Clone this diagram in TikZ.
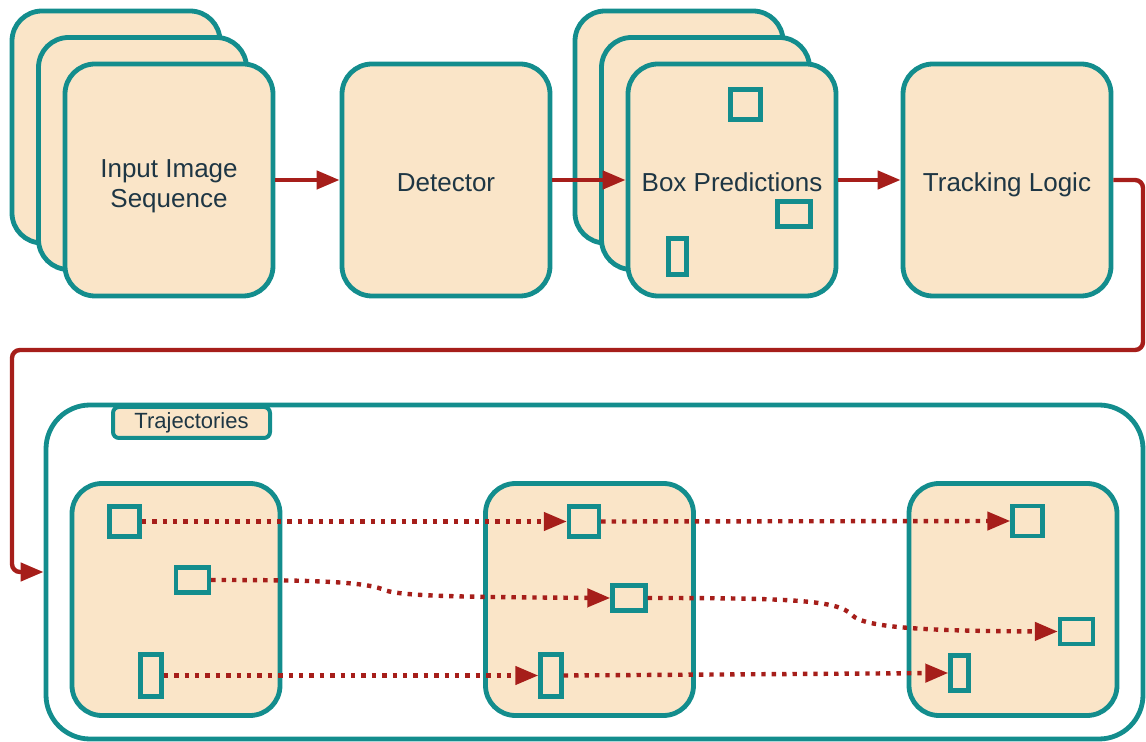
\documentclass[tikz,border=0pt]{standalone}
\usepackage{fontspec}
\setmainfont{Liberation Sans}
\usetikzlibrary{arrows.meta, positioning}
\definecolor{trackteal}{RGB}{19,141,141}
\definecolor{trackfill}{RGB}{250,229,200}
\definecolor{trackred}{RGB}{166,30,26}
\definecolor{trackink}{RGB}{30,54,68}
\tikzstyle{stage} = [draw=trackteal, fill=trackfill, line width=2.4pt, rounded corners=15pt, minimum width=104pt, minimum height=116pt, inner sep=0pt, align=center, text=trackink, font=\fontsize{13}{15}\selectfont, text height=11.5pt, text depth=0pt]
\tikzstyle{bbox} = [draw=trackteal, fill=trackfill, line width=2.2pt, inner sep=0pt]
\tikzstyle{arrow} = [line width=2.2pt, draw=trackred, -{Triangle[length=11.5pt,width=9pt]}]
\tikzstyle{trail} = [arrow, dash pattern=on 2.2pt off 3pt]

\begin{document}
\begin{tikzpicture}[x=0.5pt, y=-0.5pt]
\useasboundingbox (0,0) rectangle (1146,742);

% Stacked frames behind the first and third stage
\foreach \i/\d in {2/53, 1/26.5} {
    \node[stage] (input\i) at (169-\d,180-\d) {};
    \node[stage] (preds\i) at (732-\d,180-\d) {};
}

% Pipeline stages
\node[stage, text height=27.5pt] (input) at (169,180) {Input Image\\Sequence};
\node[stage] (detector) at (446,180) {Detector};
\node[stage] (preds) at (732,180) {Box Predictions};
\node[stage] (tracking) at (1007,180) {Tracking Logic};

% Detections drawn on the prediction frame
\node[bbox, minimum width=15pt, minimum height=15pt] (predsq) at (745.5,104.5) {};
\node[bbox, minimum width=16.5pt, minimum height=12.5pt] (predwide) at (794,214) {};
\node[bbox, minimum width=9pt, minimum height=18pt] (predtall) at (677.5,256.5) {};

% Trajectory panel
\node[draw=trackteal, line width=2.4pt, rounded corners=22pt, minimum width=548.5pt, minimum height=167pt] (traj) at (594.5,572) {};
\node[draw=trackteal, fill=trackfill, line width=2pt, rounded corners=3pt, minimum width=78.5pt, minimum height=15.5pt, inner sep=0pt, text=trackink, font=\fontsize{11}{13}\selectfont] (trajlabel) at (191.5,422.5) {Trajectories};

\foreach \n/\x in {1/176, 2/589.5, 3/1013}
    \node[stage] (frame\n) at (\x,599.5) {};

% Tracked objects per frame
\node[bbox, minimum width=15pt, minimum height=15pt] (f1a) at (124.5,521.5) {};
\node[bbox, minimum width=16.5pt, minimum height=12.5pt] (f1b) at (192.5,580) {};
\node[bbox, minimum width=10.5pt, minimum height=21pt] (f1c) at (151,675.5) {};
\node[bbox, minimum width=15pt, minimum height=15pt] (f2a) at (584,521.5) {};
\node[bbox, minimum width=16.5pt, minimum height=12.5pt] (f2b) at (629,598) {};
\node[bbox, minimum width=10.5pt, minimum height=21pt] (f2c) at (551,675.5) {};
\node[bbox, minimum width=15pt, minimum height=15pt] (f3a) at (1027.5,521) {};
\node[bbox, minimum width=16.5pt, minimum height=12.5pt] (f3b) at (1076.5,631.5) {};
\node[bbox, minimum width=9pt, minimum height=17.5pt] (f3c) at (959.5,673) {};

% Pipeline arrows
\draw[arrow] (input.east) -- (detector.west);
\draw[arrow] (detector.east) -- (preds.west);
\draw[arrow] (preds.east) -- (tracking.west);

\coordinate (bendR) at (1143,350);
\coordinate (bendL) at (12,350);
\draw[arrow, rounded corners=4pt] (tracking.east) -| (bendR) -- (bendL) |- (traj.west);

% Trajectory links
\draw[trail] (f1a.east) -- (f2a.west);
\draw[trail] (f2a.east) -- (f3a.west);
\draw[trail] (f1b.east) .. controls (300,580) and (360,581) .. (382,589)
    .. controls (395,596) and (450,597) .. (f2b.west);
\draw[trail] (f2b.east) .. controls (790,598) and (838,600) .. (852,615)
    .. controls (864,628) and (930,631) .. (f3b.west);
\draw[trail] (f1c.east) -- (f2c.west);
\draw[trail] (f2c.east) -- (f3c.west);
\end{tikzpicture}
\end{document}
